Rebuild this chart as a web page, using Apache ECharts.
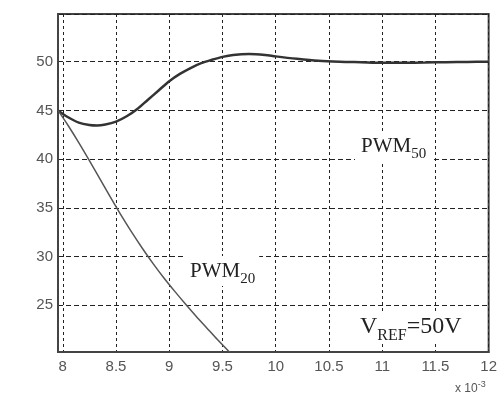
<!DOCTYPE html>
<html>
<head>
<meta charset="utf-8">
<script src="https://cdn.jsdelivr.net/npm/echarts@6/dist/echarts.min.js"></script>
<style>
html,body{margin:0;padding:0;background:#fff;}
#c{width:500px;height:400px;}
</style>
</head>
<body>
<div id="c"></div>
<script>
// time axis (x 10^-3 s)
const xMin = 7.955, xMax = 12;
const yMin = 20.2, yMax = 54.9;

// PWM50 response
const pwm50X = [7.955, 8.05, 8.15, 8.25, 8.32, 8.4, 8.5, 8.6, 8.7, 8.8, 8.9, 9.0, 9.1, 9.2, 9.3, 9.4, 9.5, 9.6, 9.75, 9.9, 10.0, 10.2, 10.4, 10.6, 10.8, 11.0, 11.2, 11.4, 11.6, 11.8, 12.0];
const pwm50Y = [45.0, 44.3, 43.75, 43.5, 43.45, 43.55, 43.85, 44.4, 45.15, 46.1, 47.05, 48.0, 48.75, 49.35, 49.85, 50.2, 50.5, 50.7, 50.8, 50.7, 50.55, 50.3, 50.1, 50.0, 49.95, 49.9, 49.9, 49.92, 49.95, 49.98, 50.0];

// PWM20 response
const pwm20X = [7.955, 8.05, 8.15, 8.25, 8.35, 8.45, 8.55, 8.65, 8.75, 8.85, 8.95, 9.05, 9.15, 9.25, 9.35, 9.45, 9.565];
const pwm20Y = [45.0, 43.45, 41.7, 39.85, 37.95, 36.05, 34.2, 32.45, 30.8, 29.25, 27.8, 26.45, 25.15, 23.9, 22.7, 21.5, 20.2];

function zip(xs, ys){ return xs.map((x,i)=>[x, ys[i]]); }

const chart = echarts.init(document.getElementById('c'), null, {renderer:'canvas'});
const labelFont = {color:'#555', fontSize:15, fontFamily:'Liberation Sans, Arial, sans-serif'};
chart.setOption({
  backgroundColor:'#fff',
  animation:false,
  grid:{left:58, right:5, top:14, bottom:48, show:true, borderColor:'#444', borderWidth:2},
  xAxis:{
    type:'value', min:xMin, max:xMax, splitNumber:8,
    axisLine:{show:true, lineStyle:{color:'#444', width:2}},
    axisTick:{show:false},
    axisLabel:Object.assign({showMinLabel:false, margin:7}, labelFont),
    splitLine:{show:true, lineStyle:{color:'#222', type:[3,3], width:1}}
  },
  yAxis:{
    type:'value', min:yMin, max:yMax, splitNumber:7,
    axisLine:{show:true, lineStyle:{color:'#444', width:2}},
    axisTick:{show:false},
    axisLabel:Object.assign({showMinLabel:false, showMaxLabel:false, margin:5}, labelFont),
    splitLine:{show:true, lineStyle:{color:'#222', type:[5,3], width:1}}
  },
  series:[
    {name:'PWM50', type:'line', data:zip(pwm50X,pwm50Y), smooth:0.3, showSymbol:false, symbol:'none',
     lineStyle:{color:'#333', width:2.5}, z:3},
    {name:'PWM20', type:'line', data:zip(pwm20X,pwm20Y), smooth:0.3, showSymbol:false, symbol:'none',
     lineStyle:{color:'#555', width:1.5}, z:3}
  ],
  graphic:[
    {type:'text', left:355, top:131, z:10, style:{
      text:'{a|PWM}{s|50}', backgroundColor:'#fff', padding:[2,6,4,6],
      rich:{a:{fontFamily:'Liberation Serif, Times New Roman, serif', fontSize:21, fill:'#222', lineHeight:24, verticalAlign:'bottom'},
            s:{fontFamily:'Liberation Serif, Times New Roman, serif', fontSize:15, fill:'#222', lineHeight:24, verticalAlign:'bottom', padding:[0,0,-5,0]}}
    }},
    {type:'text', left:186, top:256, z:10, style:{
      text:'{a|PWM}{s|20}', backgroundColor:'#fff', padding:[2,4,4,4],
      rich:{a:{fontFamily:'Liberation Serif, Times New Roman, serif', fontSize:21, fill:'#222', lineHeight:24, verticalAlign:'bottom'},
            s:{fontFamily:'Liberation Serif, Times New Roman, serif', fontSize:15, fill:'#222', lineHeight:24, verticalAlign:'bottom', padding:[0,0,-5,0]}}
    }},
    {type:'text', left:355, top:311, z:10, style:{
      text:'{a|V}{s|REF}{a|=50V}', backgroundColor:'#fff', padding:[2,5,4,5],
      rich:{a:{fontFamily:'Liberation Serif, Times New Roman, serif', fontSize:24, fill:'#222', lineHeight:26, verticalAlign:'bottom'},
            s:{fontFamily:'Liberation Serif, Times New Roman, serif', fontSize:16, fill:'#222', lineHeight:26, verticalAlign:'bottom', padding:[0,0,-5,0]}}
    }},
    {type:'text', left:455, top:380, z:10, style:{
      text:'{a|x 10}{s|-3}',
      rich:{a:{fontFamily:'Liberation Sans, Arial, sans-serif', fontSize:12, fill:'#555', lineHeight:14},
            s:{fontFamily:'Liberation Sans, Arial, sans-serif', fontSize:9, fill:'#555', lineHeight:14, padding:[0,0,8,0]}}
    }}
  ]
});
</script>
</body>
</html>
